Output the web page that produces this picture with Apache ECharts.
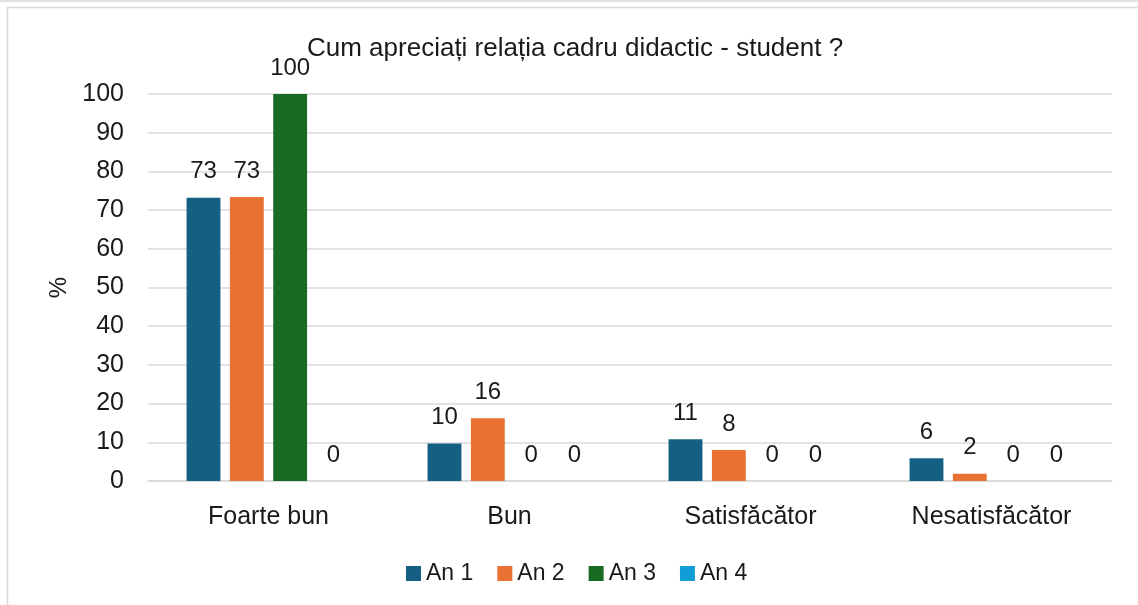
<!DOCTYPE html>
<html lang="ro">
<head>
    <meta charset="UTF-8">
    <title>Cum apreciați relația cadru didactic - student ?</title>
    <script type="text/javascript" src="https://cdn.jsdelivr.net/npm/echarts@6/dist/echarts.min.js"></script>
    <style>
        body { margin: 0; background: #fff; }
    </style>
</head>
<body>
<div id="chartmain" style="width:1138px;height:605px"></div>
<script>
    var categories = ['Foarte bun', 'Bun', 'Satisfăcător', 'Nesatisfăcător'];
    var seriesNames = ['An 1', 'An 2', 'An 3', 'An 4'];
    var an1 = [73.2, 9.7, 10.8, 5.9];
    var an2 = [73.4, 16.2, 8.0, 1.9];
    var an3 = [100, 0, 0, 0];
    var an4 = [0, 0, 0, 0];
    var colors = ['#156082', '#E97132', '#196B24', '#0F9ED5'];

    var font = 'Liberation Sans';
    var textColor = '#1a1a1a';
    var allData = [an1, an2, an3, an4];

    var series = [];
    for (var i = 0; i < seriesNames.length; i++) {
        series.push({
            name: seriesNames[i],
            type: 'bar',
            data: allData[i],
            barGap: '28%',
            barCategoryGap: '32%',
            itemStyle: { color: colors[i] },
            label: {
                show: true,
                position: 'top',
                distance: 14,
                fontFamily: font,
                fontSize: 24,
                color: textColor,
                formatter: function (p) { return Math.round(p.value); }
            }
        });
    }

    var option = {
        animation: false,
        title: {
            text: 'Cum apreciați relația cadru didactic - student ?',
            left: 302,
            top: 31,
            textStyle: { fontFamily: font, fontSize: 26, fontWeight: 'normal', color: textColor }
        },
        legend: {
            data: seriesNames,
            bottom: 15,
            left: 401,
            itemWidth: 15,
            itemHeight: 15,
            itemGap: 24,
            icon: 'rect',
            textStyle: { fontFamily: font, fontSize: 23, color: textColor }
        },
        grid: { left: 148, right: 26, top: 94, bottom: 124 },
        xAxis: {
            type: 'category',
            data: categories,
            axisTick: { show: false },
            axisLine: { lineStyle: { color: '#d9d9d9', width: 1.5 } },
            axisLabel: { fontFamily: font, fontSize: 25, color: textColor, margin: 24 }
        },
        yAxis: {
            type: 'value',
            min: 0,
            max: 100,
            interval: 10,
            name: '%',
            nameLocation: 'middle',
            nameGap: 77,
            nameRotate: 90,
            nameTextStyle: { fontFamily: font, fontSize: 24, color: textColor },
            axisLabel: { fontFamily: font, fontSize: 25, color: textColor, margin: 24 },
            splitLine: { lineStyle: { color: '#d9d9d9', width: 1.5 } }
        },
        graphic: [
            { type: 'line', shape: { x1: 0, y1: 1, x2: 1138, y2: 1 }, style: { stroke: '#d9d9d9', lineWidth: 1.5 } },
            { type: 'rect', shape: { x: 7.5, y: 7.5, width: 1200, height: 700 }, style: { fill: 'none', stroke: '#d9d9d9', lineWidth: 1.5 } }
        ],
        series: series
    };

    var myChart = echarts.init(document.getElementById('chartmain'));
    myChart.setOption(option);
</script>
</body>
</html>
